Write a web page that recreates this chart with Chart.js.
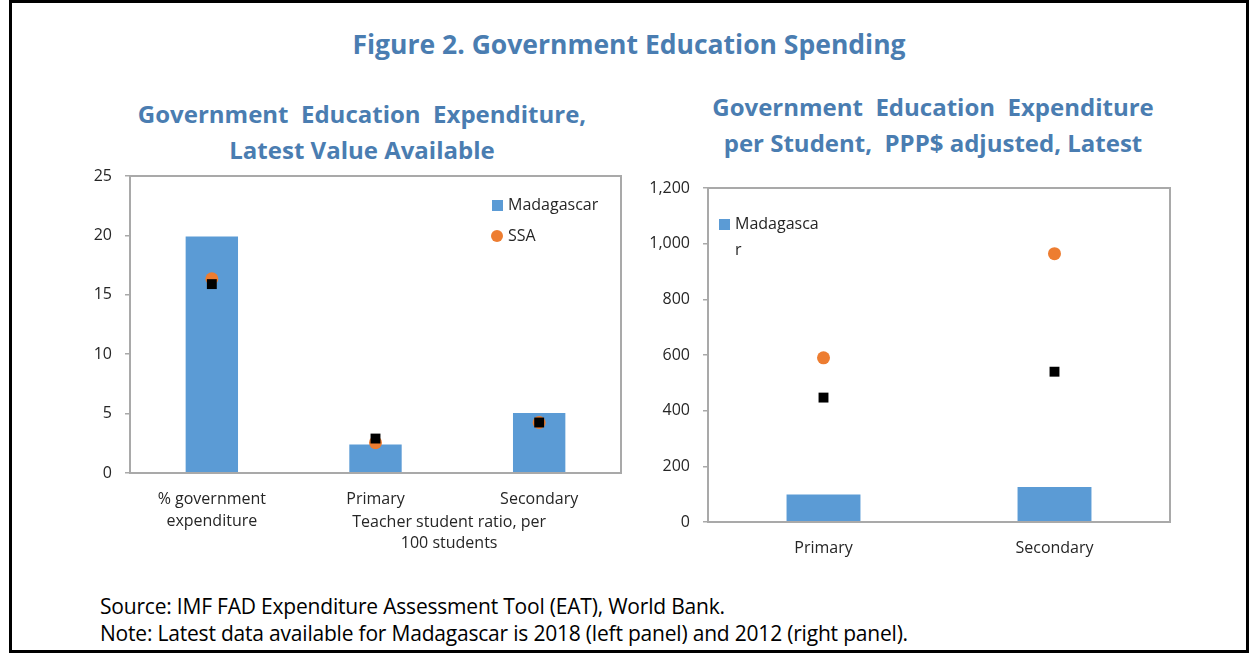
<!DOCTYPE html>
<html>
<head>
<meta charset="utf-8">
<title>Figure 2. Government Education Spending</title>
<script src="https://cdn.jsdelivr.net/npm/chart.js@4.4.1/dist/chart.umd.min.js"></script>
<style>
  html, body { margin: 0; padding: 0; background: #fff; }
  body { position: relative; width: 1254px; height: 656px; overflow: hidden; font-family: "Open Sans", sans-serif; }
  #frame { position: absolute; left: 9px; top: 0; width: 1240px; height: 653px; box-sizing: border-box; border: 3px solid #000; }
  .ttl { position: absolute; text-align: center; font-weight: bold; color: #4a7db1; white-space: pre; }
  #mainTitle { left: 9px; width: 1240px; top: 27px; font-size: 26.5px; line-height: 34px; }
  #leftTitle { left: 112px; width: 500px; top: 96px; font-size: 24px; line-height: 36px; }
  #rightTitle { left: 683px; width: 500px; top: 89px; font-size: 24px; line-height: 36px; }
  #notes { position: absolute; left: 100px; top: 593px; font-size: 21px; line-height: 27px; color: #000; letter-spacing: -0.2px; }
  .box { position: absolute; }
  #leftBox { left: 50px; top: 160px; width: 585px; height: 410px; }
  #rightBox { left: 640px; top: 170px; width: 550px; height: 400px; }
</style>
</head>
<body>
<div id="frame"></div>
<div id="mainTitle" class="ttl">Figure 2. Government Education Spending</div>
<div id="leftTitle" class="ttl">Government  Education  Expenditure,
Latest Value Available</div>
<div id="rightTitle" class="ttl">Government  Education  Expenditure
per Student,  PPP$ adjusted, Latest</div>
<div id="notes">Source: IMF FAD Expenditure Assessment Tool (EAT), World Bank.<br>Note: Latest data available for Madagascar is 2018 (left panel) and 2012 (right panel).</div>
<div id="leftBox" class="box"><canvas id="leftChart"></canvas></div>
<div id="rightBox" class="box"><canvas id="rightChart"></canvas></div>

<script>
// ---- data: left panel ----
const leftCategories = [['% government', 'expenditure'], 'Primary', 'Secondary'];
const leftGroupLabel = ['Teacher student ratio, per', '100 students'];
const leftMadagascar = [19.9, 2.4, 5.05];
const leftSSA = [16.35, 2.55, 4.25];
const leftComparators = [15.9, 2.9, 4.25];
const leftTickMax = 25;
const leftTickStep = 5;

// ---- data: right panel ----
const rightCategories = ['Primary', 'Secondary'];
const rightMadagascar = [99, 126];
const rightSSA = [590, 964];
const rightComparators = [447, 540];
const rightTickMax = 1200;
const rightTickStep = 200;

const seriesNames = ['Madagascar', 'SSA', 'Comparators'];

const BLUE = '#5b9bd5';
const ORANGE = '#ed7d31';
const BLACK = '#000000';
const TEXT = '#262626';
const AXIS = '#a9a9a9';
const FONT = '"Open Sans", sans-serif';

// grey box round the plot area
const plotBox = {
  id: 'plotBox',
  afterDraw(chart) {
    const a = chart.chartArea;
    const ctx = chart.ctx;
    ctx.save();
    ctx.strokeStyle = AXIS;
    ctx.lineWidth = 2;
    ctx.strokeRect(a.left, a.top, a.right - a.left, a.bottom - a.top);
    ctx.restore();
  }
};

// legend drawn inside the plot area
const insideLegend = {
  id: 'insideLegend',
  afterDraw(chart, args, opts) {
    if (!opts.items) return;
    const ctx = chart.ctx;
    const a = chart.chartArea;
    const x0 = opts.fromRight ? a.right + opts.dx : a.left + opts.dx;
    let y = a.top + opts.dy;
    ctx.save();
    ctx.font = '16px ' + FONT;
    ctx.textBaseline = 'middle';
    opts.items.forEach(it => {
      const ds = chart.data.datasets[it.index];
      ctx.fillStyle = ds.backgroundColor;
      if (ds.type === 'line') {
        ctx.beginPath();
        ctx.arc(x0 + 5, y, 6, 0, Math.PI * 2);
        ctx.fill();
      } else {
        ctx.fillRect(x0, y - 5, 11, 11);
      }
      ctx.fillStyle = TEXT;
      const lines = it.lines || [ds.label];
      lines.forEach((l, k) => ctx.fillText(l, x0 + 16, y + k * opts.lineGap));
      y += opts.rowGap + (lines.length - 1) * opts.lineGap;
    });
    ctx.restore();
  }
};

// second-level category label under Primary / Secondary
const groupLabel = {
  id: 'groupLabel',
  afterDraw(chart, args, opts) {
    if (!opts.lines) return;
    const ctx = chart.ctx;
    const x = chart.scales.x.getPixelForValue(opts.at);
    ctx.save();
    ctx.font = '16px ' + FONT;
    ctx.fillStyle = TEXT;
    ctx.textAlign = 'center';
    ctx.textBaseline = 'middle';
    opts.lines.forEach((l, k) => ctx.fillText(l, x, chart.chartArea.bottom + opts.dy + k * opts.lineGap));
    ctx.restore();
  }
};

function makeChart(id, cats, mada, ssa, comp, max, step, cfg) {
  return new Chart(document.getElementById(id), {
    type: 'bar',
    data: {
      labels: cats,
      datasets: [
        { label: seriesNames[0], data: mada, backgroundColor: BLUE, order: 3,
          barPercentage: 0.32, categoryPercentage: 1 },
        { type: 'line', label: seriesNames[1], data: ssa, backgroundColor: ORANGE, borderColor: ORANGE,
          showLine: false, pointStyle: 'circle', pointRadius: 6.5, pointBorderWidth: 0, order: 2 },
        { type: 'line', label: seriesNames[2], data: comp, backgroundColor: BLACK, borderColor: BLACK,
          showLine: false, pointStyle: 'rect', pointRadius: 7, pointBorderWidth: 0, order: 1 }
      ]
    },
    options: {
      responsive: true,
      maintainAspectRatio: false,
      animation: false,
      layout: { padding: cfg.padding },
      scales: {
        x: {
          grid: { display: false, drawTicks: false },
          border: { display: false },
          ticks: { color: TEXT, font: { family: FONT, size: 16, lineHeight: 1.35 }, padding: 16, maxRotation: 0, autoSkip: false },
          afterFit: s => { s.height = cfg.xHeight; s.paddingLeft = 0; s.paddingRight = 0; }
        },
        y: {
          min: 0, max: max,
          grid: { drawOnChartArea: false, drawTicks: true, tickLength: 5, color: AXIS, lineWidth: 1.5 },
          border: { display: false },
          ticks: { stepSize: step, color: TEXT, font: { family: FONT, size: 16 }, padding: 13,
                   callback: v => v.toLocaleString('en-US') },
          afterFit: s => { s.width = cfg.yWidth; s.paddingTop = 0; s.paddingBottom = 0; }
        }
      },
      plugins: {
        legend: { display: false },
        tooltip: { enabled: false },
        insideLegend: cfg.legend,
        groupLabel: cfg.group || {}
      }
    },
    plugins: [plotBox, insideLegend, groupLabel]
  });
}

makeChart('leftChart', leftCategories, leftMadagascar, leftSSA, leftComparators, leftTickMax, leftTickStep, {
  padding: { top: 16, right: 14, left: 0, bottom: 0 },
  xHeight: 97,
  yWidth: 80,
  legend: { fromRight: true, dx: -129, dy: 29, rowGap: 31, lineGap: 26,
            items: [{ index: 0 }, { index: 1 }] },
  group: { at: 1.45, dy: 49, lineGap: 21, lines: leftGroupLabel }
});

makeChart('rightChart', rightCategories, rightMadagascar, rightSSA, rightComparators, rightTickMax, rightTickStep, {
  padding: { top: 18, right: 20, left: 0, bottom: 0 },
  xHeight: 48,
  yWidth: 68,
  legend: { fromRight: false, dx: 11, dy: 36, rowGap: 31, lineGap: 26,
            items: [{ index: 0, lines: ['Madagasca', 'r'] }] }
});
</script>
</body>
</html>
